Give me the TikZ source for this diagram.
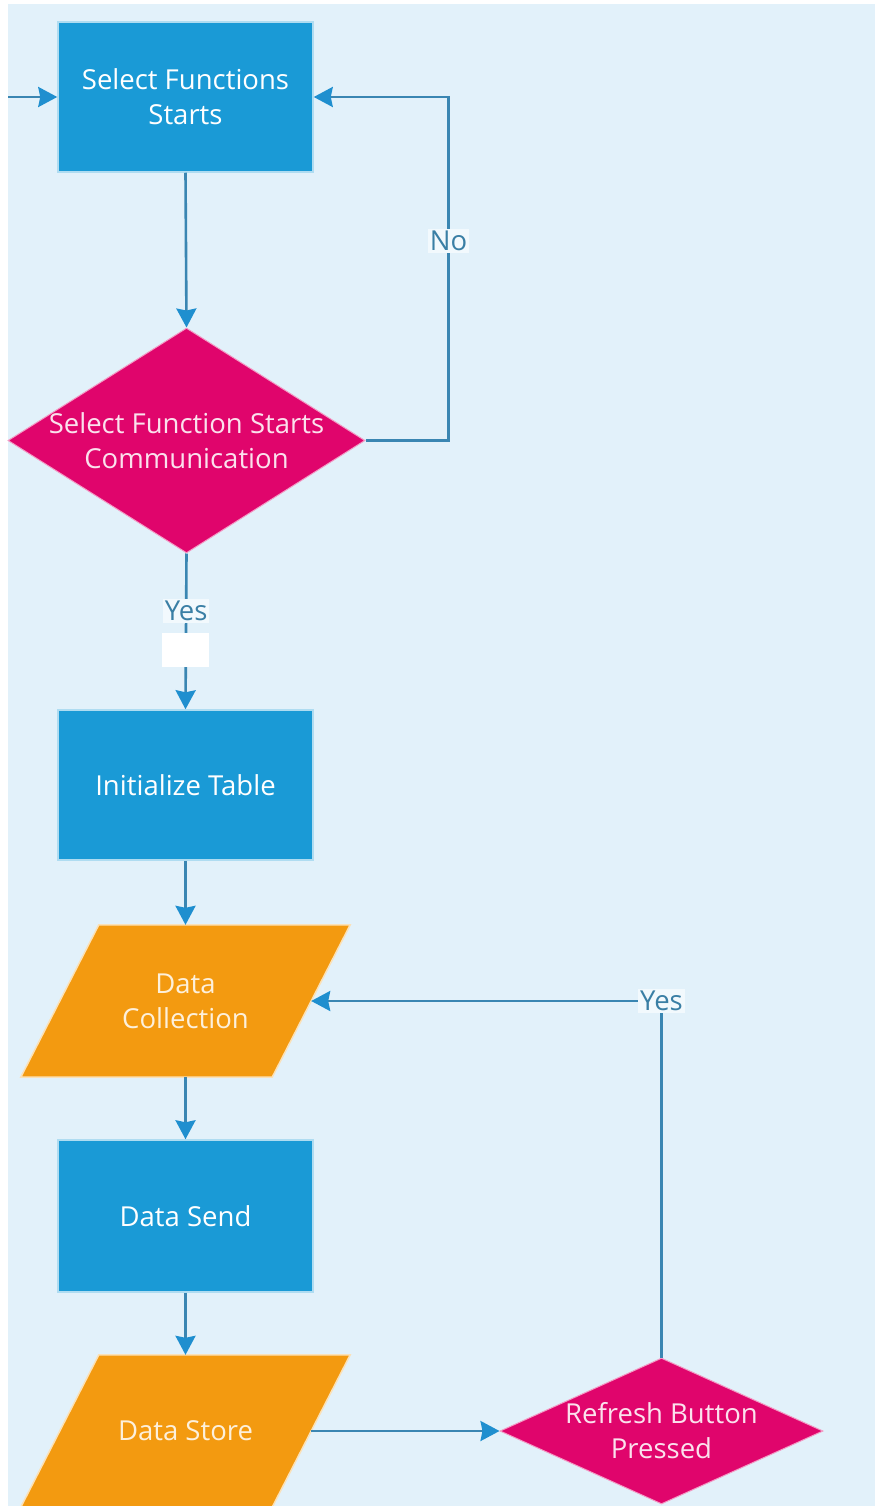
\documentclass[tikz,border=0pt]{standalone}
\usepackage{fontspec}
\setmainfont{Open Sans}
\usetikzlibrary{shapes.geometric,arrows.meta,backgrounds}

\definecolor{bgcol}{HTML}{E2F1FA}
\definecolor{boxblue}{HTML}{1A9AD6}
\definecolor{decpink}{HTML}{E0056C}
\definecolor{ioorange}{HTML}{F39A10}
\definecolor{linecol}{HTML}{3A86B2}
\definecolor{tipcol}{HTML}{1F8FCF}
\definecolor{labelcol}{HTML}{3A7FA5}
\definecolor{labelbg}{HTML}{F2F9FD}

\tikzset{
  txt/.style={font=\fontsize{27.5}{35}\selectfont, align=center, inner sep=0pt},
  procbox/.style={rectangle, fill=boxblue, draw=boxblue!35!white, line width=1.5pt,
    minimum width=255pt, minimum height=150pt, txt, text=white},
  decbox/.style={diamond, fill=decpink, draw=decpink!40!white, line width=1pt,
    inner sep=0pt},
  % text area of an input/output step; the slanted outline is drawn behind it
  iobox/.style={rectangle, minimum width=251pt, minimum height=152pt,
    txt, text=ioorange!15!white},
  iofill/.style={fill=ioorange, draw=ioorange!30!white, line width=1.5pt},
  dectext/.style={txt, text=decpink!12!white},
  flow/.style={draw=linecol, line width=2.6pt,
    -{Stealth[length=19pt, width=20pt, inset=2pt, color=tipcol]}},
  edgelabel/.style={txt, text=labelcol, fill=labelbg, inner sep=2pt},
}

\newcommand{\ioshape}[1]{%
  \fill[iofill] ([xshift=39pt]#1.north west) -- ([xshift=39pt]#1.north east)
    -- ([xshift=-39pt]#1.south east) -- ([xshift=-39pt]#1.south west) -- cycle;}

\begin{document}
\begin{tikzpicture}[x=1pt, y=-1pt]
  % canvas
  \begin{scope}[on background layer]
    \fill[bgcol] (0,0) rectangle (875,1506);
    \fill[white] (0,0) rectangle (8,1506);
    \fill[white] (0,0) rectangle (875,4);
  \end{scope}
  \useasboundingbox (0,0) rectangle (875,1506);

  % process steps
  \node[procbox] (sel) at (185.5,97) {Select Functions\\Starts};
  \node[procbox] (init) at (185.5,785) {Initialize Table};
  \node[procbox, minimum height=152pt] (send) at (185.5,1216) {Data Send};

  % decisions
  \node[decbox, minimum width=357pt, minimum height=225pt] (dec1) at (186.5,440.5) {};
  \node[dectext] at (dec1.center) {Select Function Starts\\Communication};
  \node[decbox, minimum width=323pt, minimum height=146pt] (dec2) at (661.5,1431) {};
  \node[dectext] at (dec2.center) {Refresh Button\\Pressed};

  % input / output
  \node[iobox] (coll) at (185.5,1001) {Data\\Collection};
  \node[iobox] (store) at (185.5,1431) {Data Store};
  \begin{scope}[on background layer]
    \ioshape{coll}
    \ioshape{store}
  \end{scope}

  % connectors
  \coordinate (entry) at (8,97);
  \draw[flow] (entry) -- (sel.west);
  \draw[flow] (sel.south) -- (dec1.north);
  \draw[flow] (dec1.east) -- ++(83,0) |- (sel.east)
    node[edgelabel, pos=0.29] {No};
  \draw[flow] (dec1.south) -- (init.north)
    node[edgelabel, pos=0.37] {Yes}
    node[fill=white, minimum width=47pt, minimum height=34pt, inner sep=0pt, pos=0.62] (gap) {};
  \draw[flow] (init.south) -- (coll.north);
  \draw[flow] (coll.south) -- (send.north);
  \draw[flow] (send.south) -- (store.north);
  \draw[flow] (store.east) -- (dec2.west);
  \draw[flow] (dec2.north) |- (coll.east)
    node[edgelabel, pos=0.5] {Yes};
\end{tikzpicture}
\end{document}
